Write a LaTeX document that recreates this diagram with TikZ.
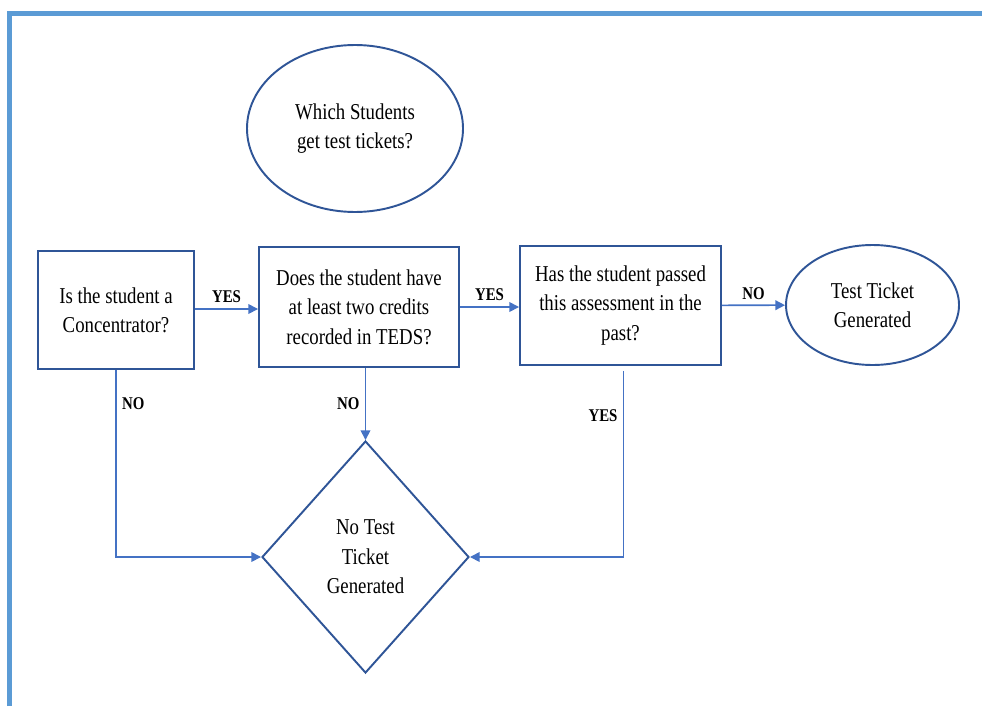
\documentclass[tikz,border=0pt]{standalone}
\usepackage{fontspec}
\setmainfont[FakeStretch=0.83]{Liberation Serif}
\usepackage{tikz}
\usetikzlibrary{calc}
\usetikzlibrary{shapes.geometric}
\usetikzlibrary{arrows.meta}
\usepackage{xcolor}
\definecolor{B0}{HTML}{2F5597}
\definecolor{B1}{HTML}{4472C4}
\definecolor{B2}{HTML}{5B9BD5}
\newcommand\mainsize{\fontsize{12.9}{16.7}\selectfont}
\newcommand\lblsize{\fontsize{10.2}{12}\selectfont\bfseries}
\tikzset{
  qbox/.style={draw=B0,line width=1.1pt,rectangle,align=center,inner sep=0pt,font=\mainsize},
  oval/.style={draw=B0,line width=1.1pt,ellipse,align=center,inner sep=0pt,font=\mainsize},
  endbox/.style={draw=B0,line width=1.1pt,diamond,align=center,inner sep=0pt,font=\mainsize},
  flow/.style={draw=B1,line width=0.9pt,-{Triangle[length=5.5pt,width=5.5pt]}},
  lbl/.style={font=\lblsize,inner sep=3pt}
}

\begin{document}
\begin{tikzpicture}[x=0.02cm,y=-0.02cm]
\def\u{0.02cm}
\useasboundingbox (0,0) rectangle (982,706);

% frame
\draw[color=B2,line width=2.8pt] (9.75,706) -- (9.75,13.5) -- (982,13.5);

% nodes
\node[oval,minimum width=216*\u,minimum height=167*\u] (which) at (355,128.5) {Which Students\\get test tickets?};
\node[qbox,minimum width=156*\u,minimum height=118*\u] (q1) at (116,310) {Is the student a\\Concentrator?};
\node[qbox,minimum width=200*\u,minimum height=120*\u] (q2) at (359,307) {Does the student have\\at least two credits\\recorded in TEDS?};
\node[qbox,minimum width=201*\u,minimum height=119*\u] (q3) at (620.5,305.5) {Has the student passed\\this assessment in the\\past?};
\node[oval,minimum width=173*\u,minimum height=120*\u] (ticket) at (872.5,305) {Test Ticket\\Generated};
\node[endbox,minimum width=207*\u,minimum height=232*\u] (noticket) at (365.5,557) {No Test\\Ticket\\Generated};

% connectors
\draw[flow] ($(q1.east)+(0,-1)$) -- node[lbl,above]{YES} ($(q1.east -| q2.west)+(0,-1)$);
\draw[flow] (q2.east) -- node[lbl,above]{YES} (q2.east -| q3.west);
\draw[flow] (q3) -- node[lbl,above]{NO} (ticket);
\draw[flow] (q2.south -| noticket.north) -- node[lbl,left]{NO} (noticket.north);
\draw[flow] (q1.south) |- node[lbl,right,pos=0.09]{NO} (noticket.west);
\draw[flow] ($(q3.south)+(3,5)$) |- node[lbl,left,pos=0.12]{YES} (noticket.east);

\end{tikzpicture}
\end{document}
